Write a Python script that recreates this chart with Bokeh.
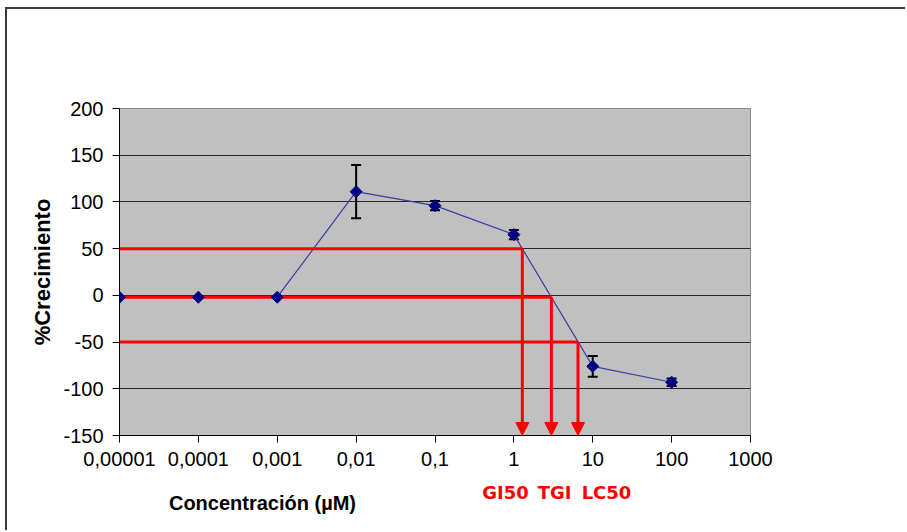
import math
from bokeh.plotting import figure
from bokeh.models import (ColumnDataSource, FixedTicker, Whisker, TeeHead, Arrow,
                          NormalHead, LinearAxis, Range1d, LinearScale)
from bokeh.embed import file_html
from bokeh.resources import INLINE

# Growth response (% of control) vs. compound concentration (µM)
concentration = [1e-5, 1e-4, 1e-3, 1e-2, 1e-1, 1.0, 10.0, 100.0]
growth = [-2, -2, -2, 111, 96, 65, -76, -93]
growth_err = [0, 0, 0, 28.5, 5, 5, 11, 4]

# Reference growth levels and the concentrations where the curve crosses them
marker_names = ["GI50", "TGI", "LC50"]
marker_levels = [50, -2, -50]
marker_conc = [1.28, 2.99, 6.5]

x_ticks = [1e-5, 1e-4, 1e-3, 1e-2, 1e-1, 1, 10, 100, 1000]
x_tick_labels = ["0,00001", "0,0001", "0,001", "0,01", "0,1", "1", "10", "100", "1000"]
y_ticks = [-150, -100, -50, 0, 50, 100, 150, 200]

FONT = "Liberation Sans"
FRAME_W = 631

src = ColumnDataSource(dict(
    x=concentration, y=growth,
    lo=[g - e for g, e in zip(growth, growth_err)],
    hi=[g + e for g, e in zip(growth, growth_err)],
))
thr = ColumnDataSource(dict(
    x0=[concentration[0]] * len(marker_levels),
    x1=marker_conc,
    y=marker_levels,
    ybot=[y_ticks[0]] * len(marker_levels),
))

p = figure(width=900, height=523, x_axis_type="log",
           x_range=(x_ticks[0], x_ticks[-1]), y_range=(y_ticks[0], y_ticks[-1]),
           output_backend="svg", toolbar_location=None,
           min_border_left=112, min_border_right=157,
           min_border_top=99, min_border_bottom=97)
p.styles = {"margin-left": "5px", "margin-top": "7px",
            "border-left": "2px solid #3a3a3a", "border-top": "2px solid #3a3a3a"}

p.background_fill_color = "#c0c0c0"
p.border_fill_color = "white"
p.outline_line_color = "#8a8a8a"
p.outline_line_width = 1

# axes
p.xaxis.ticker = FixedTicker(ticks=x_ticks)
p.xaxis.major_label_overrides = {t: s for t, s in zip(x_ticks, x_tick_labels)}
p.xaxis.minor_tick_line_color = None
p.yaxis.ticker = FixedTicker(ticks=y_ticks)
p.yaxis.major_label_overrides = {t: str(t) for t in y_ticks}
p.yaxis.minor_tick_line_color = None
for ax in (p.xaxis, p.yaxis):
    ax.axis_line_color = "black"
    ax.axis_line_width = 1
    ax.major_tick_line_color = "black"
    ax.major_tick_in = 0
    ax.major_tick_out = 7
    ax.major_label_text_font = FONT
    ax.major_label_text_font_size = "20px"
    ax.major_label_text_color = "black"
p.xaxis.major_label_standoff = 9
p.yaxis.major_label_standoff = 9

p.yaxis.axis_label = "%Crecimiento"
p.yaxis.axis_label_text_font = FONT
p.yaxis.axis_label_text_font_size = "22px"
p.yaxis.axis_label_text_font_style = "bold"
p.yaxis.axis_label_text_color = "black"
p.yaxis.axis_label_standoff = 5

p.xgrid.grid_line_color = None
p.ygrid.grid_line_color = "#262626"
p.ygrid.grid_line_width = 1

# linear pixel-based range for the text rows under the concentration axis
p.extra_x_ranges = {"px": Range1d(0, FRAME_W)}
p.extra_x_scales = {"px": LinearScale()}


def text_row(positions, texts, font, size, color, standoff):
    ax = LinearAxis(x_range_name="px", ticker=FixedTicker(ticks=positions),
                    major_label_overrides=dict(zip(positions, texts)))
    ax.axis_line_color = None
    ax.major_tick_line_color = None
    ax.minor_tick_line_color = None
    ax.major_label_standoff = standoff
    ax.major_label_text_font = font
    ax.major_label_text_font_size = size
    ax.major_label_text_font_style = "bold"
    ax.major_label_text_color = color
    p.add_layout(ax, "below")


text_row([386, 435, 487], marker_names, "DejaVu Sans", "18px", "#ff0000", 7)
text_row([143], ["Concentración (µM)"], FONT, "20px", "black", -20)

# response curve
p.line("x", "y", source=src, line_color="#3b3ba6", line_width=1.2)

# threshold guide lines (horizontal) and arrows down to the concentration axis
p.segment(x0="x0", y0="y", x1="x1", y1="y", source=thr,
          line_color="#ff0000", line_width=3)
p.add_layout(Arrow(source=thr, x_start="x1", y_start="y", x_end="x1", y_end="ybot",
                   line_color="#ff0000", line_width=3,
                   end=NormalHead(size=13, fill_color="#ff0000", line_color="#ff0000",
                                  line_width=1)))

p.scatter("x", "y", source=src, marker="square", size=8.5, angle=math.pi / 4,
          fill_color="#000080", line_color="#000080")

p.add_layout(Whisker(source=src, base="x", lower="lo", upper="hi",
                     line_color="black", line_width=2,
                     lower_head=TeeHead(size=10, line_color="black", line_width=2),
                     upper_head=TeeHead(size=10, line_color="black", line_width=2)))

open("out.html", "w").write(file_html(p, INLINE))
